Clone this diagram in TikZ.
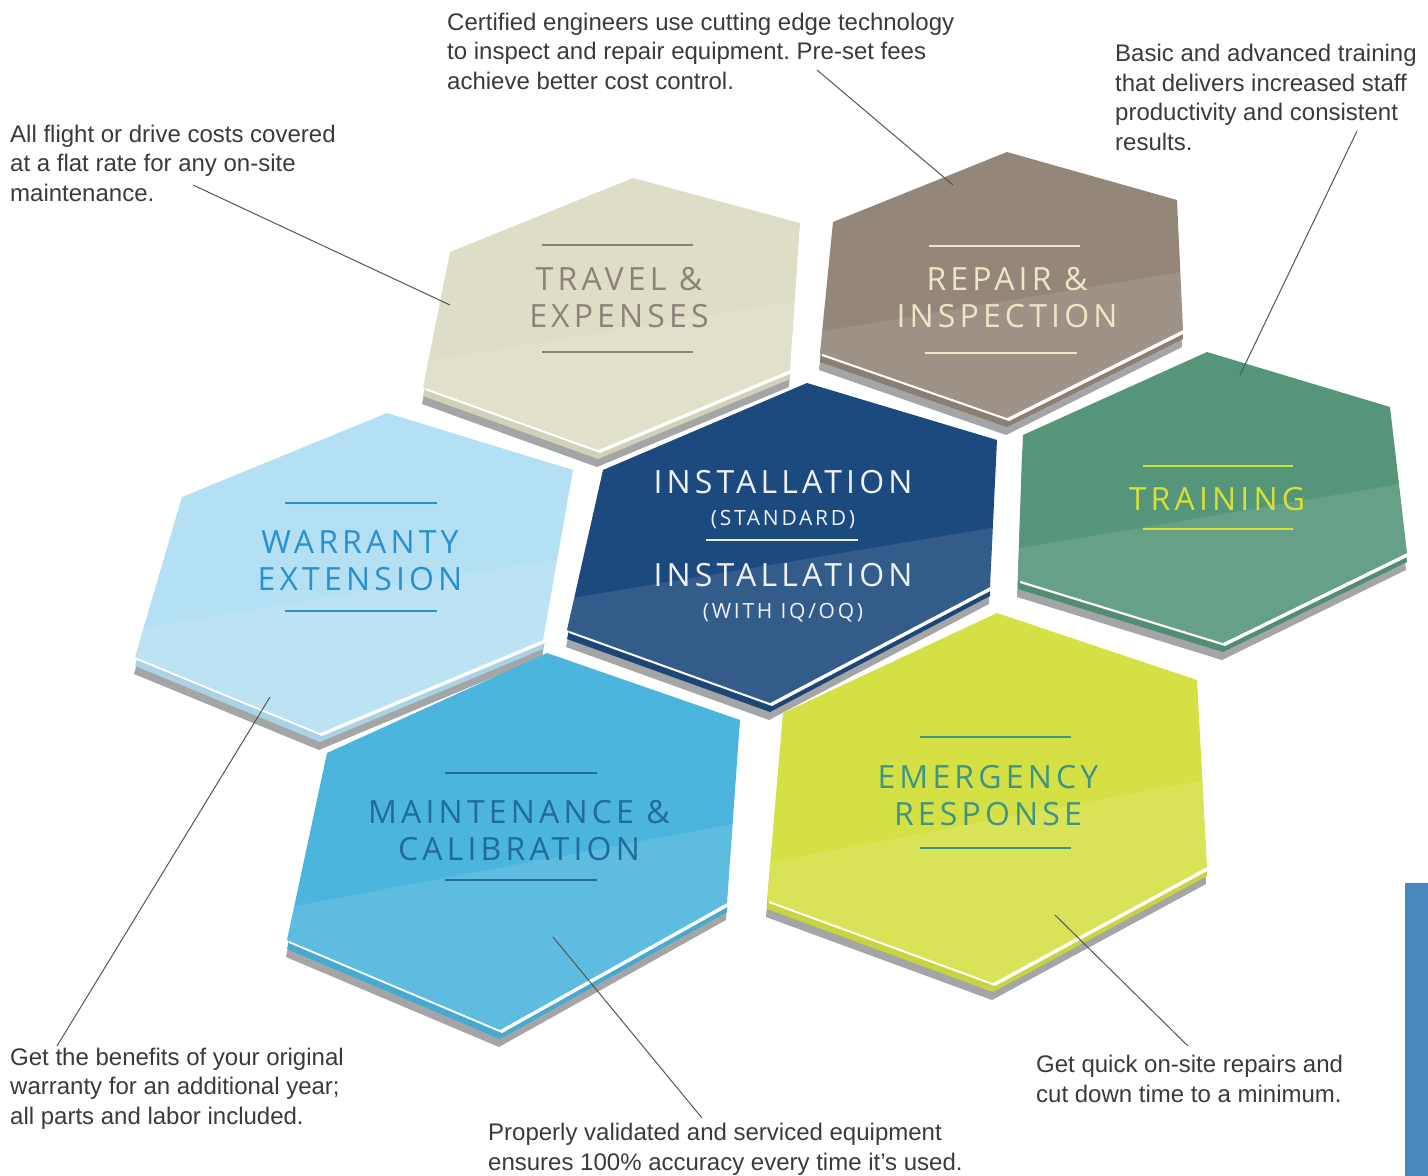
\documentclass[tikz,border=0pt]{standalone}
\usepackage{fontspec}
\setmainfont{Liberation Sans}
\newfontfamily\titlefont[LetterSpace=13]{Open Sans}
\usetikzlibrary{calc}
\frenchspacing

\definecolor{notegrey}{HTML}{3A3A3A}
\definecolor{leadergrey}{HTML}{555555}
\definecolor{basegrey}{HTML}{A3A5A7}
\definecolor{barblue}{HTML}{4A87C1}
\definecolor{travelfill}{HTML}{DEDDC5}
\definecolor{traveltext}{HTML}{8C8279}
\definecolor{repairfill}{HTML}{948679}
\definecolor{repairtext}{HTML}{EDE5C6}
\definecolor{trainfill}{HTML}{55967A}
\definecolor{traintext}{HTML}{D5E136}
\definecolor{warrfill}{HTML}{B4E0F3}
\definecolor{warrtext}{HTML}{2B90D0}
\definecolor{instfill}{HTML}{1D4A7E}
\definecolor{insttext}{HTML}{EEF2F7}
\definecolor{maintfill}{HTML}{4BB5DD}
\definecolor{mainttext}{HTML}{206C9C}
\definecolor{emergfill}{HTML}{D5E044}
\definecolor{emergtext}{HTML}{3C9585}

\tikzset{
  face/.style={fill=#1,
    path picture={\fill[white,opacity=.1]
      ($(path picture bounding box.west)!.35!(path picture bounding box.south west)$)
      -- ($(path picture bounding box.north east)!.45!(path picture bounding box.south east)$)
      |- (path picture bounding box.south west) -- cycle;}},
  note/.style={font=\fontsize{24}{29.5}\selectfont, align=left, anchor=base west,
    inner sep=0pt, text=notegrey},
  leader/.style={draw=leadergrey, line width=1pt},
  title/.style={font=\titlefont\fontsize{32}{37}\selectfont, align=center, anchor=base,
    inner sep=0pt},
  rule/.style={line width=2.5pt}
}
\newcommand{\subtitle}{\titlefont\fontsize{21}{26}\selectfont}
% one tile: colour, then its six corners
\newcommand{\hextile}[2]{%
  \fill[basegrey,shift={(-1,17)}] #2 -- cycle;
  \fill[#1!94!black,shift={(0,9)}] #2 -- cycle;
  \fill[white,shift={(2,3)}] #2 -- cycle;
  \fill[face=#1] #2 -- cycle;
}

\begin{document}
\begin{tikzpicture}[x=1pt,y=-1pt]
  \useasboundingbox (0,0) rectangle (1428,1176);

  % tiles, back row first
  \hextile{travelfill}{(633,178) -- (800,223) -- (790,370) -- (598,450) -- (423,387) -- (450,252)}
  \hextile{repairfill}{(1007,152) -- (1177,200) -- (1183,330) -- (1007,418) -- (820,353) -- (833,222)}
  \hextile{warrfill}{(387,413) -- (573,470) -- (543,640) -- (320,733) -- (135,657) -- (182,497)}
  \hextile{instfill}{(807,383) -- (997,440) -- (990,587) -- (770,703) -- (567,630) -- (603,470)}
  \hextile{trainfill}{(1207,352) -- (1390,407) -- (1407,553) -- (1223,643) -- (1018,580) -- (1023,435)}
  \hextile{maintfill}{(547,653) -- (740,720) -- (727,903) -- (500,1030) -- (287,940) -- (327,753)}
  \hextile{emergfill}{(997,613) -- (1197,680) -- (1207,867) -- (993,983) -- (767,900) -- (783,713)}

  % tile titles (anchored at the last line)
  \node[title,text=traveltext] (travel) at (619,327) {TRAVEL \&\\EXPENSES};
  \draw[rule,traveltext] (542,245) -- (693,245) (542,352) -- (693,352);
  \node[title,text=repairtext] (repair) at (1007,327) {REPAIR \&\\INSPECTION};
  \draw[rule,repairtext] (929,246) -- (1080,246) (925,353) -- (1077,353);
  \node[title,text=traintext] (train) at (1217,510) {TRAINING};
  \draw[rule,traintext] (1143,466) -- (1293,466) (1143,529) -- (1293,529);
  \node[title,text=warrtext] (warr) at (360,590) {WARRANTY\\EXTENSION};
  \draw[rule,warrtext] (285,503) -- (437,503) (285,611) -- (437,611);
  \node[title,text=insttext] (inststd) at (783,525) {INSTALLATION\\[-5pt]{\subtitle(STANDARD)}};
  \draw[rule,insttext] (706,540) -- (858,540);
  \node[title,text=insttext] (instiq) at (783,618) {INSTALLATION\\[-5pt]{\subtitle(WITH IQ/OQ)}};
  \node[title,text=mainttext] (maint) at (519,860) {MAINTENANCE \&\\CALIBRATION};
  \draw[rule,mainttext] (445,773) -- (597,773) (445,880) -- (597,880);
  \node[title,text=emergtext] (emerg) at (988,825) {EMERGENCY\\RESPONSE};
  \draw[rule,emergtext] (920,737) -- (1071,737) (920,848) -- (1071,848);

  % notes (anchored at the last line)
  \node[note] (travelnote) at (10,201) {All flight or drive costs covered\\at a flat rate for any on-site\\maintenance.};
  \node[note] (repairnote) at (447,89) {Certified engineers use cutting edge technology\\to inspect and repair equipment. Pre-set fees\\achieve better cost control.};
  \node[note] (trainnote) at (1115,150) {Basic and advanced training\\that delivers increased staff\\productivity and consistent\\results.};
  \node[note] (warrnote) at (10,1124) {Get the benefits of your original\\warranty for an additional year;\\all parts and labor included.};
  \node[note] (maintnote) at (488,1170) {Properly validated and serviced equipment\\ensures 100\% accuracy every time it’s used.};
  \node[note] (emergnote) at (1036,1102) {Get quick on-site repairs and\\cut down time to a minimum.};

  % leader lines
  \coordinate (travelfrom) at (193,185);
  \coordinate (travelto) at (450,305);
  \coordinate (repairfrom) at (817,70);
  \coordinate (repairto) at (953,185);
  \coordinate (trainfrom) at (1357,131);
  \coordinate (trainto) at (1240,375);
  \coordinate (warrfrom) at (57,1046);
  \coordinate (warrto) at (270,697);
  \coordinate (maintfrom) at (702,1118);
  \coordinate (maintto) at (553,937);
  \coordinate (emergfrom) at (1188,1046);
  \coordinate (emergto) at (1055,915);
  \draw[leader] (travelfrom) -- (travelto);
  \draw[leader] (repairfrom) -- (repairto);
  \draw[leader] (trainfrom) -- (trainto);
  \draw[leader] (warrfrom) -- (warrto);
  \draw[leader] (maintfrom) -- (maintto);
  \draw[leader] (emergfrom) -- (emergto);

  % page tab
  \fill[barblue] (1405,883) rectangle (1428,1176);
\end{tikzpicture}
\end{document}
